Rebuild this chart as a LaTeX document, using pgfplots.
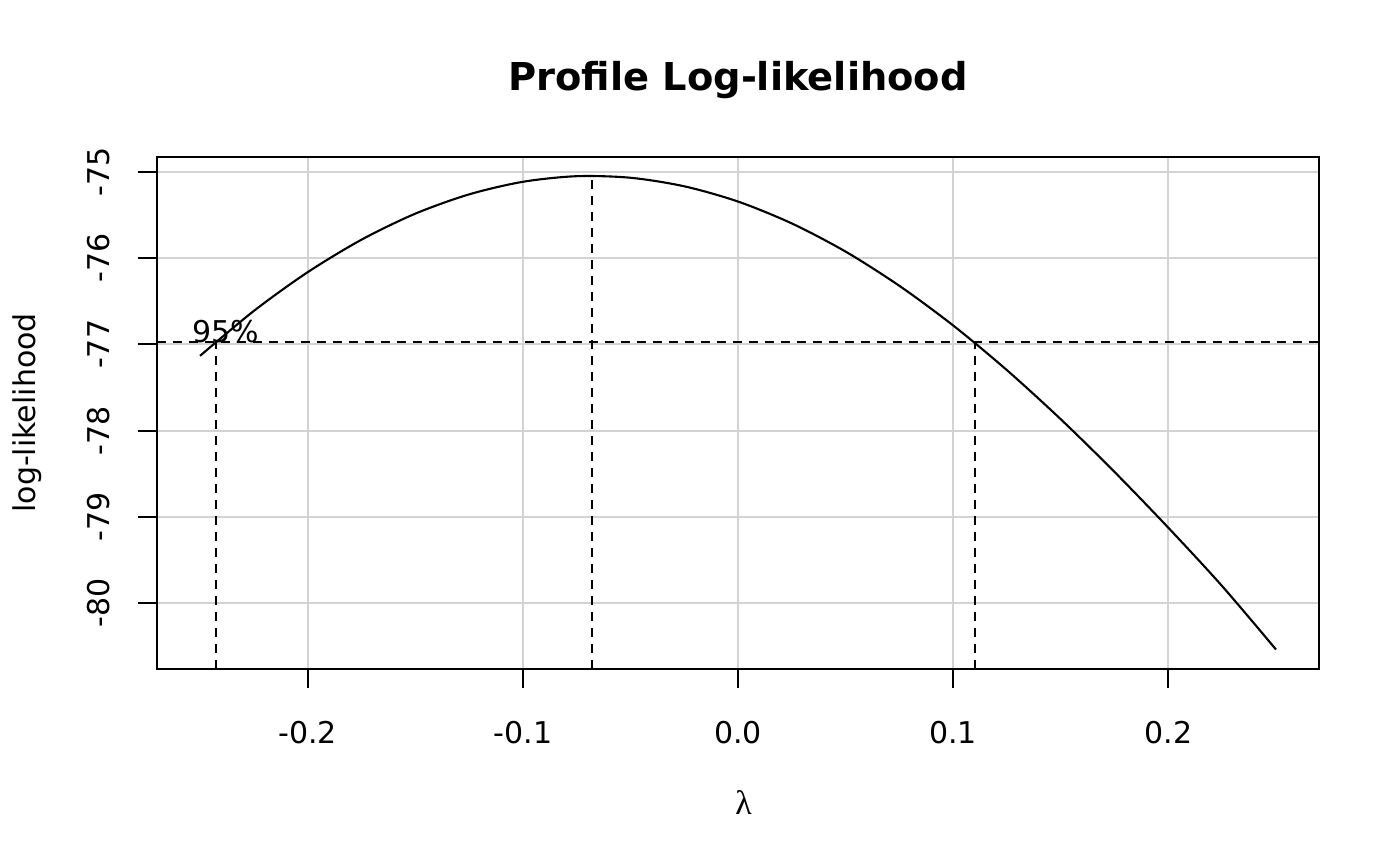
\documentclass[border=0pt]{standalone}
\usepackage{fontspec}
\setmainfont{DejaVu Sans}
\newfontfamily\greekserif{Liberation Serif}
\usepackage{pgfplots}
\pgfplotsset{compat=1.18}
\definecolor{lightgrayR}{HTML}{D3D3D3}
\begin{document}
\begin{tikzpicture}[x=1bp,y=1bp]
\useasboundingbox (0,0) rectangle (700,433);
\begin{axis}[
  at={(78.5bp,98.5bp)}, anchor=south west,
  width=581bp, height=256bp, scale only axis,
  xmin=-0.27, xmax=0.27, ymin=-80.766, ymax=-74.826,
  xtick={-0.2,-0.1,0,0.1,0.2}, xticklabels={-0.2,-0.1,0.0,0.1,0.2},
  ytick={-80,-79,-78,-77,-76,-75}, yticklabels={-80,-79,-78,-77,-76,-75},
  tick align=outside, major tick length=9.5bp,
  xtick pos=bottom, ytick pos=left,
  tick style={black, line width=1bp},
  grid=major, major grid style={color=lightgrayR, line width=1bp},
  axis line style={line width=1bp},
  ticklabel style={font=\fontsize{15bp}{18bp}\selectfont},
  xticklabel style={anchor=base, yshift=-28bp},
  yticklabel style={rotate=90, anchor=base, yshift=14bp},
]
\addplot[black, line width=1.05bp, smooth] coordinates {
(-0.25,-77.133) (-0.225,-76.612) (-0.2,-76.163) (-0.175,-75.786)
(-0.15,-75.484) (-0.125,-75.260) (-0.1,-75.114) (-0.075,-75.049)
(-0.05,-75.067) (-0.025,-75.166) (0,-75.343)
(0.025,-75.597) (0.05,-75.924) (0.075,-76.321) (0.1,-76.781)
(0.125,-77.300) (0.15,-77.869) (0.175,-78.481) (0.2,-79.128)
(0.225,-79.805) (0.25,-80.54)
};
\addplot[black, line width=1bp, dash pattern=on 4.5bp off 3.5bp] coordinates {(-0.27,-76.97) (0.27,-76.97)};
\addplot[black, line width=1bp, dash pattern=on 4.5bp off 3.5bp] coordinates {(-0.2425,-80.766) (-0.2425,-76.97)};
\addplot[black, line width=1bp, dash pattern=on 4.5bp off 3.5bp] coordinates {(-0.068,-80.766) (-0.068,-75.046)};
\addplot[black, line width=1bp, dash pattern=on 4.5bp off 3.5bp] coordinates {(0.1099,-80.766) (0.1099,-76.97)};
\node[anchor=base, font=\fontsize{15bp}{18bp}\selectfont, inner sep=0pt] at (axis cs:-0.2379,-76.98) {95\%};
\end{axis}
\node[anchor=base, font=\bfseries\fontsize{19.2bp}{23bp}\selectfont, inner sep=0pt] at (369,387.5) {Profile Log-likelihood};
\node[rotate=90, anchor=base, font=\fontsize{15bp}{18bp}\selectfont, inner sep=0pt] at (17.5,226.5) {log-likelihood};
\node[anchor=base, font=\greekserif\fontsize{17bp}{20bp}\selectfont, inner sep=0pt] at (371.75,25.5) {λ};
\end{tikzpicture}
\end{document}
